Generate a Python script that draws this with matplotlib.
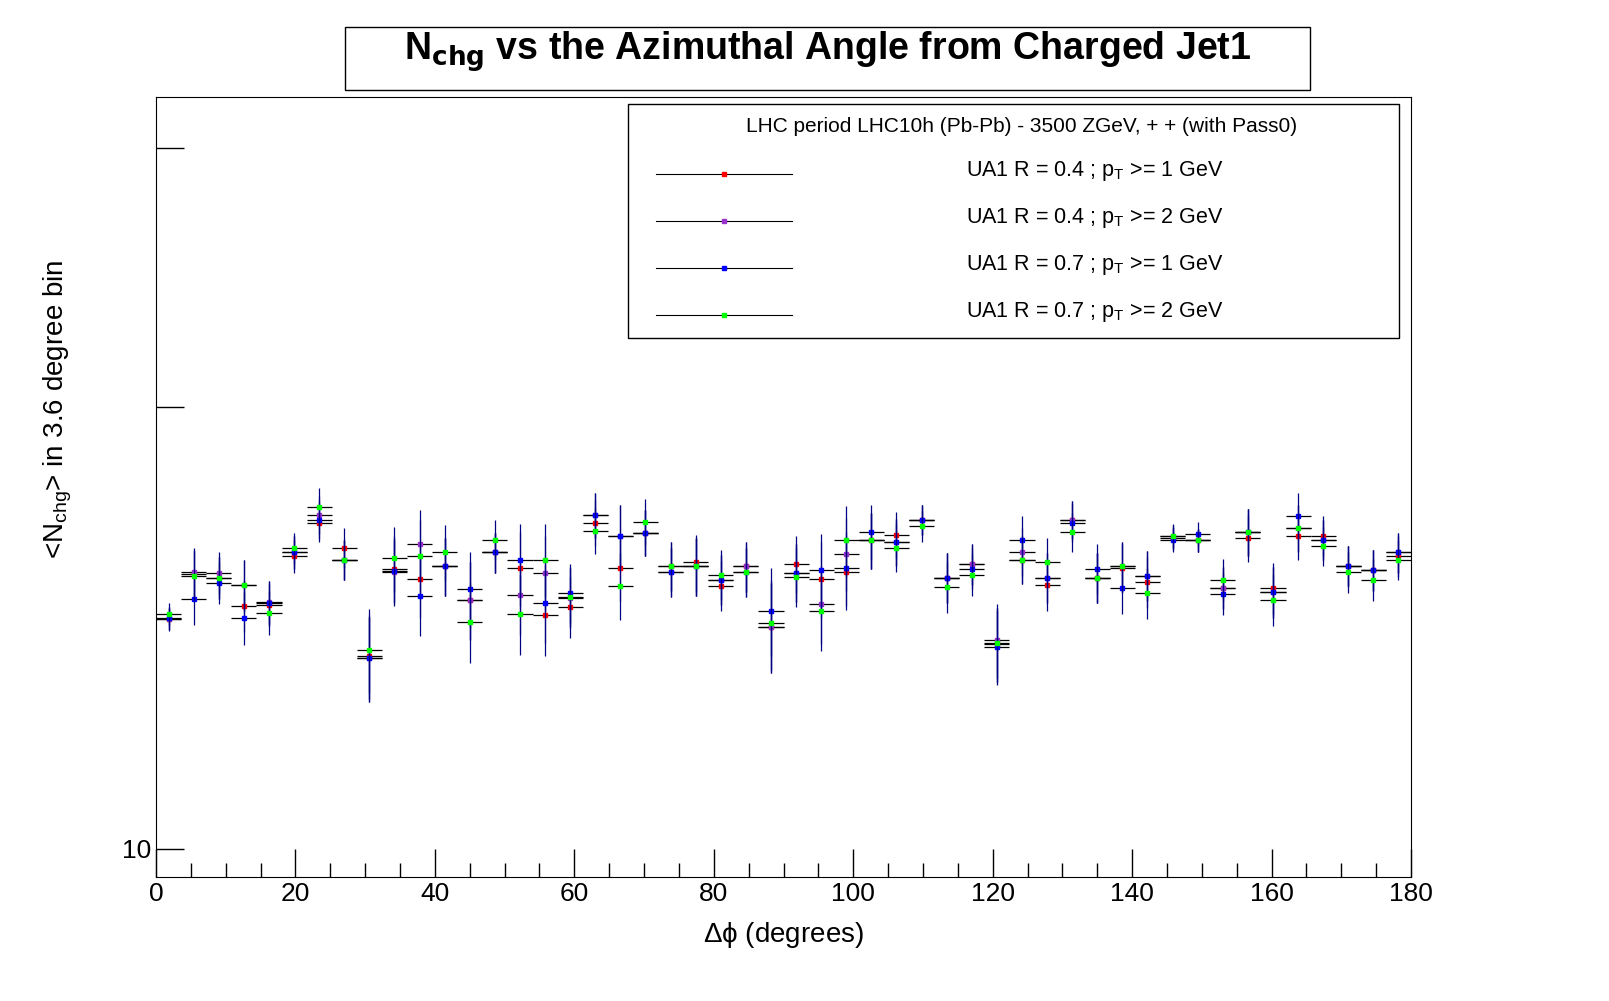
import numpy as np
import matplotlib
matplotlib.use('Agg')
import matplotlib.pyplot as plt
from matplotlib.lines import Line2D
from matplotlib.patches import Rectangle
from matplotlib.ticker import FixedLocator, MultipleLocator, NullLocator

plt.rcParams['font.family'] = ['Liberation Sans', 'DejaVu Sans']
plt.rcParams['mathtext.default'] = 'regular'

binWidth = 3.6
phi = np.arange(50) * binWidth + binWidth / 2

r04pt1 = [14.35, 15.39, 15.30, 14.64, 14.66, 15.82, 16.67, 16.04, 13.54, 15.52,
          15.27, 15.57, 14.78, 15.92, 15.54, 14.44, 14.62, 16.67, 15.54, 16.42,
          15.59, 15.67, 15.11, 15.57, 14.17, 15.64, 15.27, 15.44, 16.22, 16.37,
          16.75, 15.30, 15.62, 13.78, 15.74, 15.13, 16.75, 15.30, 15.54, 15.20,
          16.27, 16.22, 15.06, 16.29, 15.06, 16.32, 16.34, 15.59, 15.49, 15.82]
r04pt2 = [14.33, 15.44, 15.42, 15.13, 14.73, 15.92, 16.88, 15.74, 13.49, 15.44,
          16.12, 15.57, 14.78, 15.92, 14.89, 15.42, 14.83, 16.88, 16.34, 16.42,
          15.44, 15.57, 15.25, 15.57, 14.17, 15.42, 14.69, 15.89, 16.22, 16.17,
          16.75, 15.30, 15.62, 13.88, 15.94, 15.30, 16.75, 15.30, 15.57, 15.35,
          16.32, 16.22, 15.06, 16.44, 14.96, 16.54, 16.24, 15.59, 15.49, 15.92]
r07pt1 = [14.37, 14.80, 15.18, 14.37, 14.71, 15.92, 16.75, 15.74, 13.49, 15.47,
          14.87, 15.57, 15.03, 15.92, 15.74, 14.71, 14.94, 16.88, 16.34, 16.42,
          15.44, 15.57, 15.25, 15.44, 14.53, 15.42, 15.49, 15.54, 16.44, 16.17,
          16.75, 15.30, 15.52, 13.73, 16.24, 15.30, 16.67, 15.52, 15.06, 15.35,
          16.24, 16.39, 14.92, 16.44, 14.96, 16.86, 16.24, 15.57, 15.49, 15.92]
r07pt2 = [14.46, 15.35, 15.30, 15.13, 14.48, 16.02, 17.10, 15.74, 13.67, 15.77,
          15.84, 15.92, 14.28, 16.24, 14.46, 15.74, 14.85, 16.47, 15.11, 16.70,
          15.59, 15.57, 15.37, 15.44, 14.24, 15.32, 14.53, 16.22, 16.22, 16.04,
          16.59, 15.08, 15.37, 13.80, 15.74, 15.67, 16.44, 15.30, 15.57, 14.94,
          16.34, 16.22, 15.25, 16.44, 14.78, 16.54, 16.07, 15.44, 15.25, 15.74]
errs = [0.25, 0.6, 0.5, 0.6, 0.5, 0.4, 0.5, 0.5, 0.9, 0.8,
        0.9, 0.7, 0.9, 0.5, 0.9, 0.9, 0.7, 0.6, 0.8, 0.6,
        0.6, 0.7, 0.6, 0.6, 1.0, 0.7, 0.9, 0.9, 0.7, 0.6,
        0.4, 0.6, 0.5, 0.8, 0.6, 0.6, 0.5, 0.6, 0.6, 0.6,
        0.3, 0.3, 0.5, 0.6, 0.6, 0.6, 0.5, 0.5, 0.5, 0.5]

series = [(r04pt1, '#ff0000', 'UA1 R = 0.4 ; p$_{T}$ >= 1 GeV'),
          (r04pt2, '#9933cc', 'UA1 R = 0.4 ; p$_{T}$ >= 2 GeV'),
          (r07pt1, '#0000ff', 'UA1 R = 0.7 ; p$_{T}$ >= 1 GeV'),
          (r07pt2, '#00ff00', 'UA1 R = 0.7 ; p$_{T}$ >= 2 GeV')]

fig = plt.figure(figsize=(16.09, 10.01), dpi=100)
ax = fig.add_axes([156/1609, 124/1001, 1255/1609, 780/1001])

for vals, col, lab in series:
    ax.errorbar(phi, vals, xerr=binWidth/2, fmt='none', ecolor='black', lw=0.9)
    ax.errorbar(phi, vals, yerr=errs, fmt='none', ecolor='#000080', lw=0.9)
    ax.plot(phi, vals, 's', color=col, ms=3.2, mec=col)

ax.set_yscale('log')
ax.set_xlim(0, 180)
ax.set_ylim(9.57, 32.5)
ax.yaxis.set_major_locator(FixedLocator([10, 20, 30]))
ax.yaxis.set_minor_locator(NullLocator())
ax.set_yticklabels(['10', '', ''])
ax.xaxis.set_major_locator(MultipleLocator(20))
ax.xaxis.set_minor_locator(MultipleLocator(5))
ax.tick_params(axis='both', which='major', direction='in', length=20, width=1, labelsize=19)
ax.tick_params(axis='x', which='minor', direction='in', length=10, width=1)
ax.set_xlabel(r'$\Delta\phi$ (degrees)', fontsize=20, labelpad=0)
ax.xaxis.set_label_coords(0.5, -0.055)
ax.set_ylabel(r'<N$_{chg}$> in 3.6 degree bin', fontsize=20)
ax.yaxis.set_label_coords(-0.065, 0.6)

# title box
fig.add_artist(Rectangle((345/1609, 1-90/1001), 965/1609, 63/1001, fill=False,
                         ec='black', lw=1, transform=fig.transFigure))
fig.text(828/1609, 1-52/1001, r'N$_{\mathbf{chg}}$ vs the Azimuthal Angle from Charged Jet1',
         ha='center', va='center', fontsize=27, fontweight='bold')

# legend box
fig.add_artist(Rectangle((628/1609, 1-338/1001), 771/1609, 234/1001, fill=False,
                         ec='black', lw=1, transform=fig.transFigure, zorder=5))
fig.add_artist(Rectangle((628/1609, 1-338/1001), 771/1609, 234/1001, fc='white',
                         ec='none', transform=fig.transFigure, zorder=4))
fig.text(1022/1609, 1-126/1001, 'LHC period LHC10h (Pb-Pb) - 3500 ZGeV, + + (with Pass0)',
         ha='center', va='center', fontsize=15, zorder=6)
for i, (vals, col, lab) in enumerate(series):
    yy = 1 - (174 + 47*i)/1001
    fig.add_artist(Line2D([656/1609, 792/1609], [yy, yy], color='black', lw=0.8,
                          transform=fig.transFigure, zorder=6))
    fig.add_artist(Line2D([724/1609], [yy], marker='s', ms=3.2, color=col,
                          transform=fig.transFigure, zorder=7))
    fig.text(966/1609, yy + 3/1001, lab, ha='left', va='center', fontsize=15.5, zorder=6)

fig.savefig('out.png', dpi=100)
